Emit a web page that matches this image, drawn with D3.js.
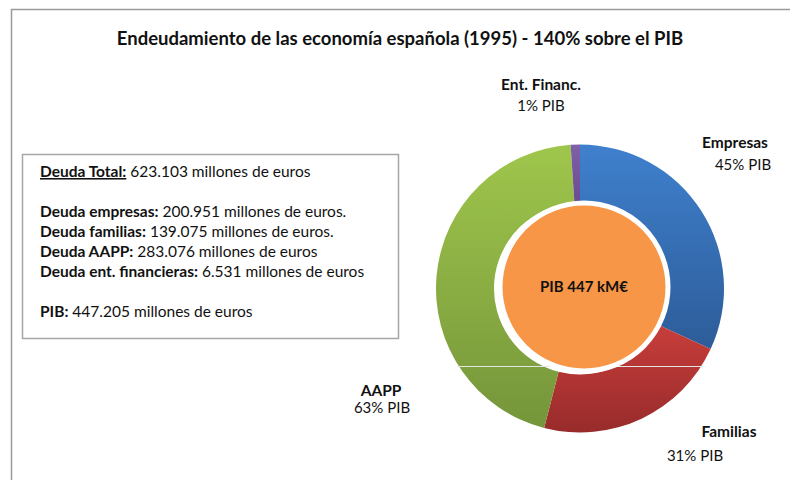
<!DOCTYPE html>
<html>
<head>
<meta charset="utf-8">
<script src="https://cdn.jsdelivr.net/npm/d3@7"></script>
<style>
  body { margin: 0; background: #fff; }
  svg text { font-family: Lato, "Open Sans", sans-serif; fill: #111; }
</style>
</head>
<body>
<div id="chart"></div>
<script>
// Data (millones de euros)
const sectors = ['Empresas', 'Familias', 'AAPP', 'Ent. Financ.'];
const deuda = [200951, 139075, 283076, 6531];
const pibLabels = ['45% PIB', '31% PIB', '63% PIB', '1% PIB'];
const pibCenter = 'PIB 447 kM€';
const title = 'Endeudamiento de las economía española (1995) - 140% sobre el PIB';

const infoLines = [
    { b: 'Deuda Total:', t: ' 623.103 millones de euros', u: true },
    { b: 'Deuda empresas:', t: ' 200.951 millones de euros.' },
    { b: 'Deuda familias:', t: ' 139.075 millones de euros.' },
    { b: 'Deuda AAPP:', t: ' 283.076 millones de euros' },
    { b: 'Deuda ent. financieras:', t: ' 6.531 millones de euros' },
    { b: 'PIB:', t: ' 447.205 millones de euros' }
];

const width = 790, height = 480;
const cx = 580, cy = 288.5, rOuter = 144, rInner = 86;

const svg = d3.select('#chart').append('svg')
    .attr('width', width)
    .attr('height', height);

// frame
svg.append('path')
    .attr('d', 'M11.5,480 V9.5 H790')
    .style('fill', 'none')
    .style('stroke', '#9a9a9a')
    .style('stroke-width', 1.5);

// title
svg.append('text')
    .attr('x', 400).attr('y', 45)
    .attr('text-anchor', 'middle')
    .style('font-size', '18.5px')
    .style('font-weight', 'bold')
    .text(title);

// gradients for each slice (top light -> bottom dark), per slice box
const grads = [['#3f80cd', '#2d5c99'], ['#c73e3b', '#982b2b'], ['#9fc64c', '#75953a'], ['#8060a8', '#6a4a90']];
const defs = svg.append('defs');
grads.forEach((g, i) => {
    const lg = defs.append('linearGradient')
        .attr('id', 'g' + i)
        .attr('x1', 0).attr('x2', 0)
        .attr('y1', 0).attr('y2', 1);
    lg.append('stop').attr('offset', '0%').attr('stop-color', g[0]);
    lg.append('stop').attr('offset', '100%').attr('stop-color', g[1]);
});

const pie = d3.pie().sort(null).value(d => d);
const arc = d3.arc().innerRadius(rInner).outerRadius(rOuter);

const gPie = svg.append('g').attr('transform', 'translate(' + cx + ',' + cy + ')');
gPie.selectAll('path')
    .data(pie(deuda))
    .enter().append('path')
    .attr('d', arc)
    .style('fill', (d, i) => 'url(#g' + i + ')');

// faint line across the lower ring
svg.append('line')
    .attr('x1', 457).attr('x2', 703)
    .attr('y1', 366.5).attr('y2', 366.5)
    .style('stroke', '#e6e6e6')
    .style('stroke-width', 1);

// inner PIB circle
svg.append('circle')
    .attr('cx', 584).attr('cy', 287)
    .attr('r', 84)
    .style('fill', '#f79646')
    .style('stroke', '#fff')
    .style('stroke-width', 5);

svg.append('text')
    .attr('x', 584).attr('y', 292)
    .attr('text-anchor', 'middle')
    .style('font-size', '15px')
    .style('font-weight', 'bold')
    .text(pibCenter);

// slice labels
const labelPos = [
    { n: [735, 148], p: [743, 170] },
    { n: [729, 437], p: [695, 461] },
    { n: [381, 396], p: [382, 413] },
    { n: [541, 90], p: [541, 111] }
];
sectors.forEach((s, i) => {
    svg.append('text')
        .attr('x', labelPos[i].n[0]).attr('y', labelPos[i].n[1])
        .attr('text-anchor', 'middle')
        .style('font-size', '15.5px')
        .style('font-weight', 'bold')
        .text(s);
    svg.append('text')
        .attr('x', labelPos[i].p[0]).attr('y', labelPos[i].p[1])
        .attr('text-anchor', 'middle')
        .style('font-size', '15px')
        .text(pibLabels[i]);
});

// info box
svg.append('rect')
    .attr('x', 22.5).attr('y', 154.5)
    .attr('width', 376).attr('height', 184)
    .style('fill', '#fff')
    .style('stroke', '#a6a6a6')
    .style('stroke-width', 1.5);

const lineY = [177, 217, 237, 257, 277, 317];
infoLines.forEach((l, i) => {
    const t = svg.append('text')
        .attr('x', 40).attr('y', lineY[i])
        .style('font-size', '15.5px');
    t.append('tspan')
        .style('font-weight', 'bold')
        .style('text-decoration', l.u ? 'underline' : null)
        .text(l.b);
    t.append('tspan').text(l.t);
});
</script>
</body>
</html>
